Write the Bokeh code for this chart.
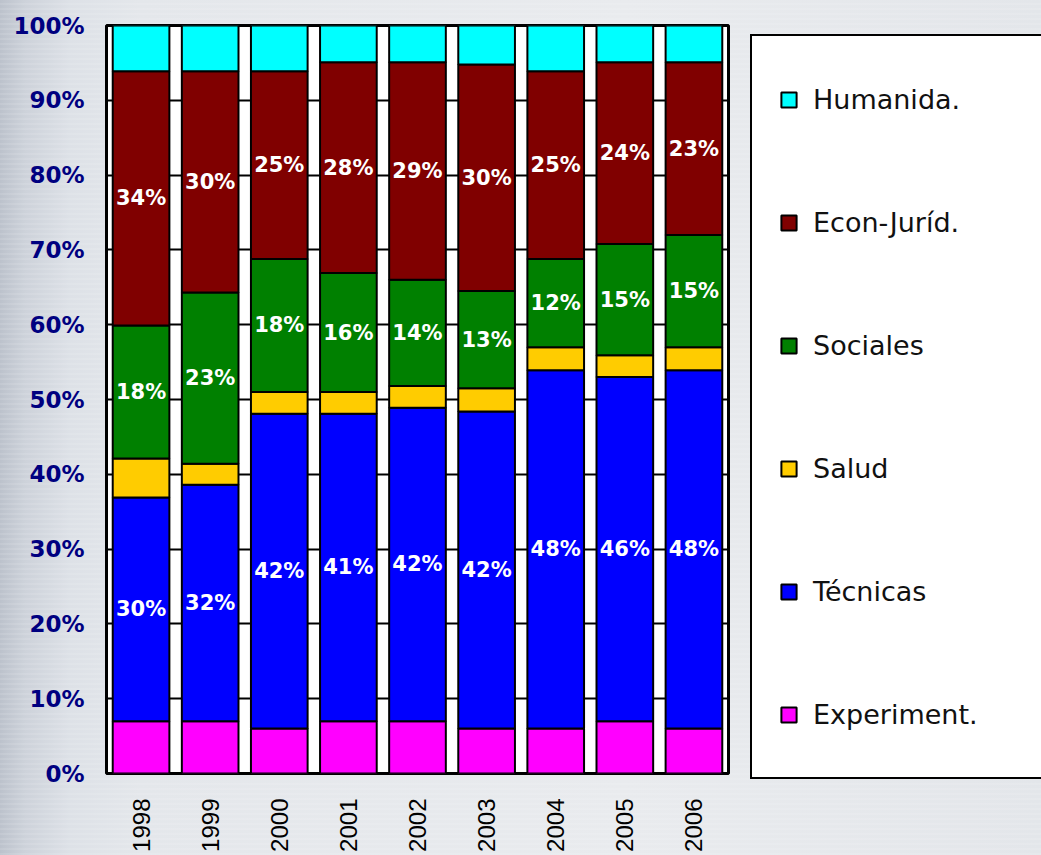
import math
from bokeh.plotting import figure
from bokeh.models import (ColumnDataSource, FactorRange, Range1d, FixedTicker,
                          PrintfTickFormatter, Legend, LegendItem, GlobalInlineStyleSheet)
from bokeh.embed import file_html
from bokeh.resources import INLINE
from bokeh.core.properties import value

years = ["1998", "1999", "2000", "2001", "2002", "2003", "2004", "2005", "2006"]
series_names = ["Experiment.", "Técnicas", "Salud", "Sociales", "Econ-Juríd.", "Humanida."]
experiment = [7.0, 7.0, 6.0, 7.0, 7.0, 6.0, 6.0, 7.0, 6.0]
tecnicas = [29.9, 31.6, 42.1, 41.1, 41.9, 42.4, 47.9, 46.0, 47.9]
salud = [5.2, 2.8, 2.9, 2.9, 2.9, 3.1, 3.1, 2.9, 3.1]
sociales = [17.8, 22.9, 17.8, 15.9, 14.2, 13.0, 11.8, 14.9, 15.0]
econ = [34.0, 29.6, 25.1, 28.2, 29.1, 30.3, 25.1, 24.3, 23.1]
humanida = [6.1, 6.1, 6.1, 4.9, 4.9, 5.2, 6.1, 4.9, 4.9]
colors = ["#FF00FF", "#0000FF", "#FFCC00", "#008000", "#800000", "#00FFFF"]
labelled = ["tec", "soc", "eco"]

keys = ["exp", "tec", "sal", "soc", "eco", "hum"]
series = [experiment, tecnicas, salud, sociales, econ, humanida]
data = {"years": years}
for k, s in zip(keys, series):
    data[k] = s
src = ColumnDataSource(data)

# label positions (segment midpoints)
lx, ly, lt = [], [], []
bottom = [0.0] * len(years)
for k, s in zip(keys, series):
    for i, v in enumerate(s):
        if k in labelled:
            lx.append(years[i])
            ly.append(bottom[i] + v / 2.0)
            lt.append("%d%%" % round(v))
        bottom[i] += v
lsrc = ColumnDataSource(dict(x=lx, y=ly, t=lt))

p = figure(x_range=FactorRange(*years), y_range=Range1d(0, 100),
           width=None, height=None, frame_width=622, frame_height=748,
           title=None, output_backend="svg", toolbar_location=None,
           min_border_left=106, min_border_right=20, min_border_top=25,
           min_border_bottom=80)
p.background_fill_color = "white"
p.border_fill_color = None
p.outline_line_color = "black"
p.outline_line_width = 3

p.xgrid.visible = False
p.ygrid.grid_line_color = "black"
p.ygrid.grid_line_width = 2
p.ygrid.ticker = FixedTicker(ticks=list(range(0, 101, 10)))

rs = p.vbar_stack(keys, x="years", width=0.82, source=src,
                  fill_color=colors, line_color="black", line_width=2)

p.text(x="x", y="y", text="t", source=lsrc, text_align="center",
       text_baseline="middle", text_color="white",
       text_font=value("DejaVu Sans"), text_font_style="bold",
       text_font_size="21px")

p.yaxis.ticker = FixedTicker(ticks=list(range(0, 101, 10)))
p.yaxis.formatter = PrintfTickFormatter(format="%d%%")
p.yaxis.major_label_text_font = "DejaVu Sans"
p.yaxis.major_label_text_font_style = "bold"
p.yaxis.major_label_text_font_size = "23px"
p.yaxis.major_label_text_color = "#000080"
p.yaxis.major_label_standoff = 16

p.xaxis.major_label_orientation = math.pi / 2
p.xaxis.major_label_text_font = "Liberation Sans"
p.xaxis.major_label_text_font_size = "24px"
p.xaxis.major_label_text_color = "black"
p.xaxis.major_label_standoff = 19

p.axis.axis_line_color = None
p.axis.major_tick_line_color = None
p.axis.minor_tick_line_color = None

# legend: box to the right of the plot area
items = [LegendItem(label=n, renderers=[r]) for n, r in zip(reversed(series_names), reversed(rs))]
legend = Legend(items=items, location=(22, -6), padding=27, margin=0,
                spacing=51, glyph_width=19, glyph_height=19, label_height=72,
                label_width=240, label_standoff=15, label_text_font="DejaVu Sans",
                label_text_font_size="27px", label_text_color="#111111",
                background_fill_color="white", background_fill_alpha=1.0,
                border_line_color="black", border_line_width=2,
                border_line_alpha=1.0)
p.add_layout(legend, "right")

css = GlobalInlineStyleSheet(css="""
html, body { overflow: hidden; }
body {
  background:
    repeating-linear-gradient(0deg, rgba(255,255,255,0.10) 0px, rgba(255,255,255,0.10) 2px, rgba(0,0,0,0) 2px, rgba(0,0,0,0) 5px),
    linear-gradient(90deg, #bcc2cc 0px, #cdd2da 25px, #dde1e7 70px, #e4e7eb 140px, #e9ebee 60%, #e3e6ea 100%);
}
""")
p.stylesheets = [css]

open("out.html", "w").write(file_html(p, INLINE))
